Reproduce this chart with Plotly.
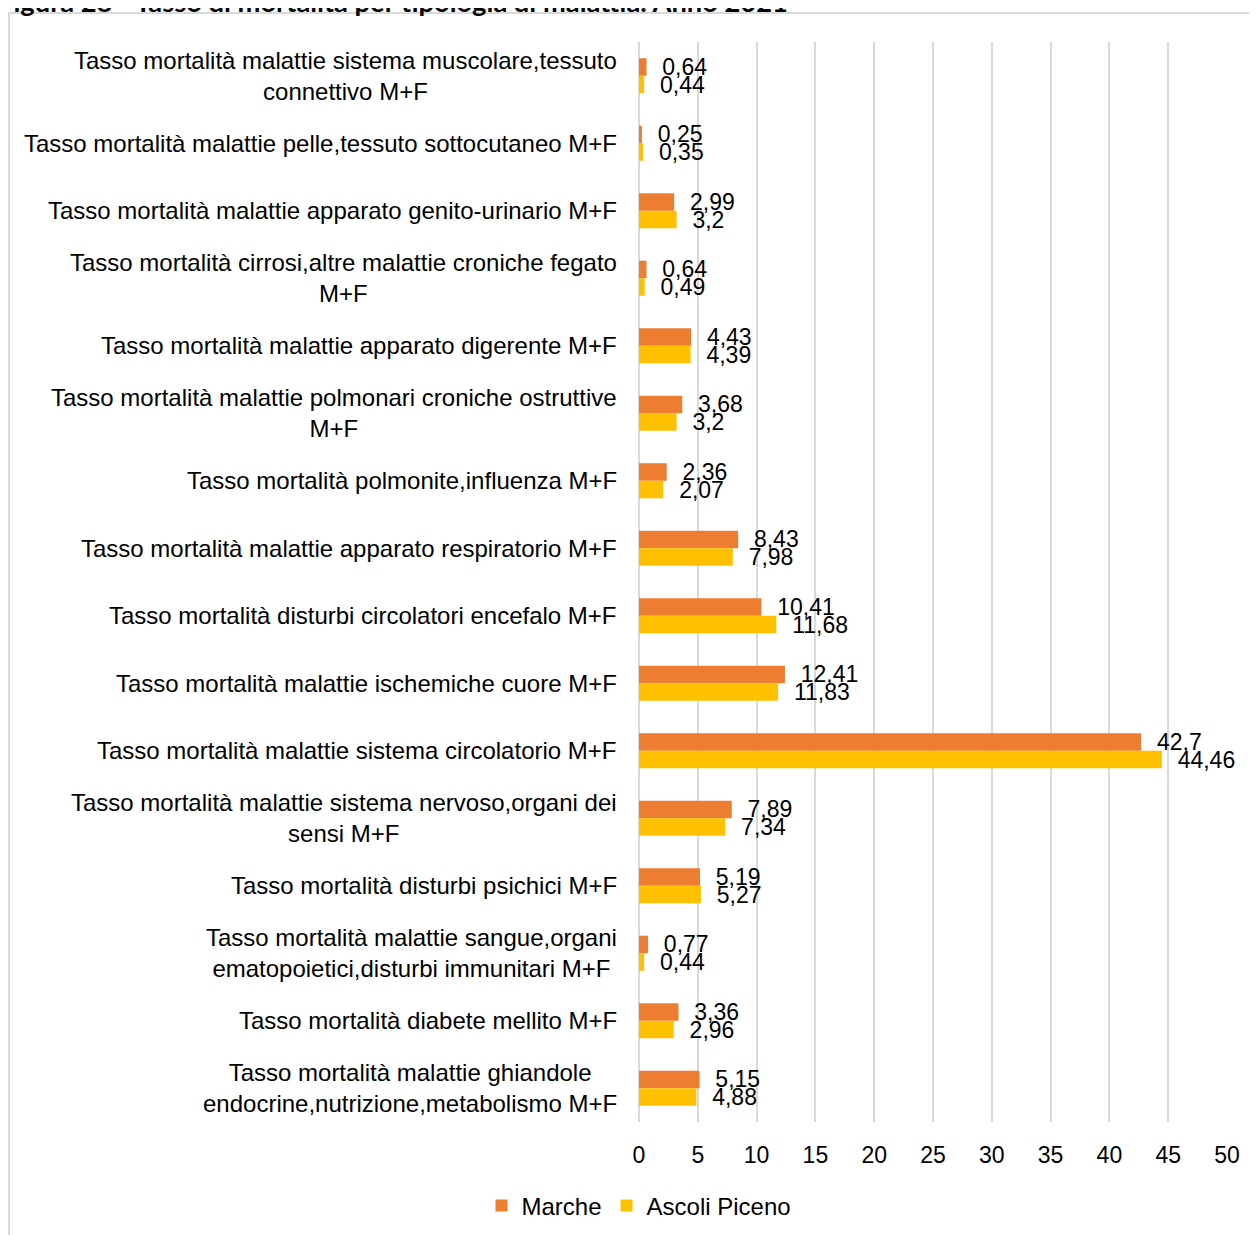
import plotly.graph_objects as go

categories = [
    "Tasso mortalità malattie sistema muscolare,tessuto connettivo M+F",
    "Tasso mortalità malattie pelle,tessuto sottocutaneo M+F",
    "Tasso mortalità malattie apparato genito-urinario M+F",
    "Tasso mortalità cirrosi,altre malattie croniche fegato M+F",
    "Tasso mortalità malattie apparato digerente M+F",
    "Tasso mortalità malattie polmonari croniche ostruttive M+F",
    "Tasso mortalità polmonite,influenza M+F",
    "Tasso mortalità malattie apparato respiratorio M+F",
    "Tasso mortalità disturbi circolatori encefalo M+F",
    "Tasso mortalità malattie ischemiche cuore M+F",
    "Tasso mortalità malattie sistema circolatorio M+F",
    "Tasso mortalità malattie sistema nervoso,organi dei sensi M+F",
    "Tasso mortalità disturbi psichici M+F",
    "Tasso mortalità malattie sangue,organi ematopoietici,disturbi immunitari M+F",
    "Tasso mortalità diabete mellito M+F",
    "Tasso mortalità malattie ghiandole endocrine,nutrizione,metabolismo M+F",
]

category_labels = [
    "Tasso mortalità malattie sistema muscolare,tessuto<br>connettivo M+F",
    "Tasso mortalità malattie pelle,tessuto sottocutaneo M+F",
    "Tasso mortalità malattie apparato genito-urinario M+F",
    "Tasso mortalità cirrosi,altre malattie croniche fegato<br>M+F",
    "Tasso mortalità malattie apparato digerente M+F",
    "Tasso mortalità malattie polmonari croniche ostruttive<br>M+F",
    "Tasso mortalità polmonite,influenza M+F",
    "Tasso mortalità malattie apparato respiratorio M+F",
    "Tasso mortalità disturbi circolatori encefalo M+F",
    "Tasso mortalità malattie ischemiche cuore M+F",
    "Tasso mortalità malattie sistema circolatorio M+F",
    "Tasso mortalità malattie sistema nervoso,organi dei<br>sensi M+F",
    "Tasso mortalità disturbi psichici M+F",
    "Tasso mortalità malattie sangue,organi<br>ematopoietici,disturbi immunitari M+F",
    "Tasso mortalità diabete mellito M+F",
    "Tasso mortalità malattie ghiandole<br>endocrine,nutrizione,metabolismo M+F",
]

marche = [0.64, 0.25, 2.99, 0.64, 4.43, 3.68, 2.36, 8.43, 10.41, 12.41, 42.7, 7.89, 5.19, 0.77, 3.36, 5.15]
ascoli = [0.44, 0.35, 3.2, 0.49, 4.39, 3.2, 2.07, 7.98, 11.68, 11.83, 44.46, 7.34, 5.27, 0.44, 2.96, 4.88]

x_ticks = [0, 5, 10, 15, 20, 25, 30, 35, 40, 45, 50]

title_text = "Figura 28 - Tasso di mortalità per tipologia di malattia. Anno 2021"


def it_fmt(v):
    return f"{v:g}".replace(".", ",")


FONT = "Liberation Sans, Arial, sans-serif"
OFF = 8  # page body margin
W, H = 1257 - OFF, 1235 - OFF
ML, MT = 639 - OFF, 42 - OFF
PR, PB = 1227 - OFF, 1122 - OFF
MR, MB = W - PR, H - PB
PW = PR - ML
PH = PB - MT


def px_x(p):
    return (p - OFF - ML) / PW


def px_y(p):
    return 1 - (p - OFF - MT) / PH


fig = go.Figure()
fig.add_trace(go.Bar(
    y=categories, x=marche, orientation="h", name="Marche",
    marker=dict(color="#ED7D31", line=dict(width=0)),
    text=[it_fmt(v) for v in marche], texttemplate="\u00a0\u00a0%{text}",
    textposition="outside", constraintext="none", cliponaxis=False,
    textfont=dict(family=FONT, size=23, color="#000000"),
))
fig.add_trace(go.Bar(
    y=categories, x=ascoli, orientation="h", name="Ascoli Piceno",
    marker=dict(color="#FFC000", line=dict(width=0)),
    text=[it_fmt(v) for v in ascoli], texttemplate="\u00a0\u00a0%{text}",
    textposition="outside", constraintext="none", cliponaxis=False,
    textfont=dict(family=FONT, size=23, color="#000000"),
))

annotations = []
for cat, lab in zip(categories, category_labels):
    annotations.append(dict(
        x=px_x(619), xref="paper", y=cat, yref="y", text=lab,
        showarrow=False, xanchor="right", yanchor="middle", align="center",
        font=dict(family=FONT, size=24, color="#000000"),
    ))

annotations.append(dict(
    x=px_x(-4), xref="paper", y=px_y(19.5), yref="paper", text="<b>" + title_text + "</b>",
    showarrow=False, xanchor="left", yanchor="bottom",
    font=dict(family="Lato, Carlito, sans-serif", size=27.3, color="#000000"),
))

fig.update_layout(
    width=W, height=H,
    margin=dict(l=ML, r=MR, t=MT, b=MB, autoexpand=False),
    paper_bgcolor="white", plot_bgcolor="white",
    barmode="group", bargap=0.48, bargroupgap=0,
    showlegend=True,
    legend=dict(orientation="h", x=px_x(639), xanchor="center", y=px_y(1206), yanchor="middle",
                font=dict(family=FONT, size=24, color="#000000"), traceorder="normal",
                itemwidth=30),
    annotations=annotations,
    shapes=[dict(type="rect", xref="paper", yref="paper",
                 x0=px_x(9), x1=px_x(1270), y0=px_y(1250), y1=px_y(13),
                 line=dict(color="#d9d9d9", width=2), fillcolor="rgba(0,0,0,0)", layer="below")],
)
fig.update_xaxes(range=[0, 50], tickvals=x_ticks, showgrid=True, gridcolor="#d9d9d9", gridwidth=2,
                 zeroline=True, zerolinecolor="#d9d9d9", zerolinewidth=2, showline=False,
                 ticks="", ticklabelstandoff=17,
                 tickfont=dict(family=FONT, size=23, color="#000000"))
fig.update_yaxes(autorange="reversed", showticklabels=False, showgrid=False, zeroline=False, showline=False)

fig.write_html("out.html")
